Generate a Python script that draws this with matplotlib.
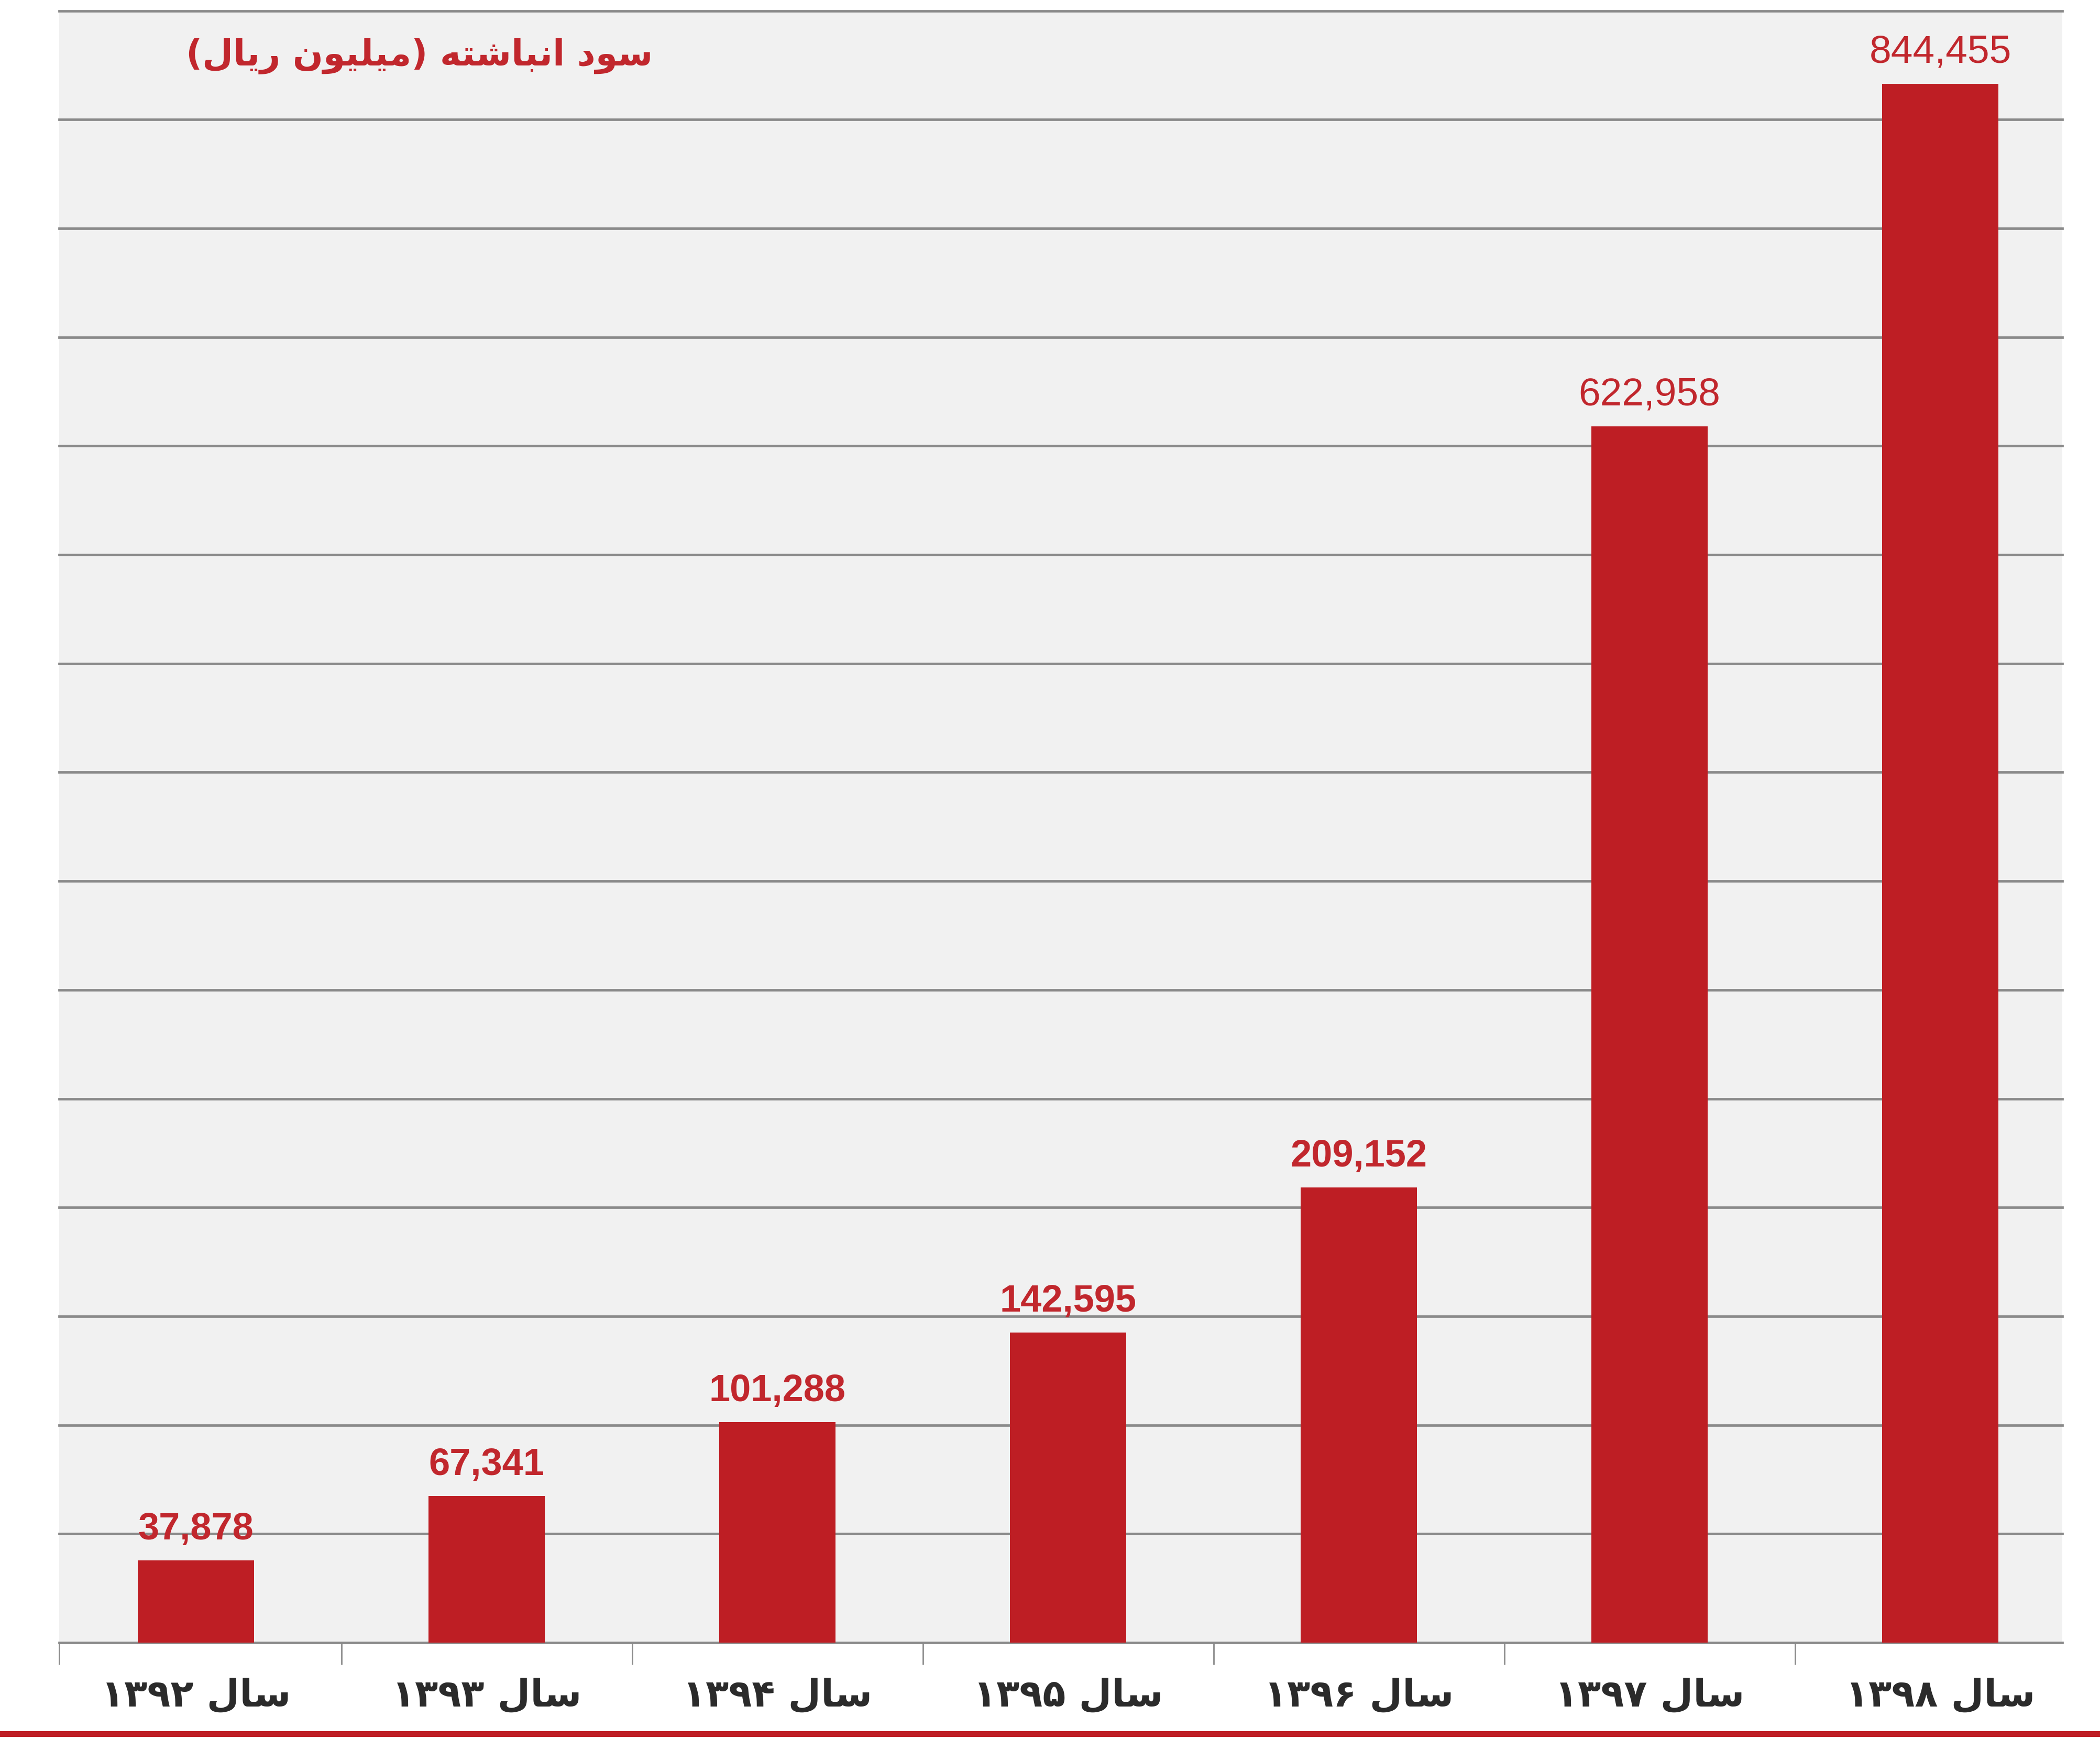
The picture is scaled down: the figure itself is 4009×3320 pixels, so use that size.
import numpy as np
import matplotlib
matplotlib.use("Agg")
import matplotlib.pyplot as plt
from matplotlib.lines import Line2D

# data (values in million rials)
years = ["سال ۱۳۹۲", "سال ۱۳۹۳", "سال ۱۳۹۴", "سال ۱۳۹۵", "سال ۱۳۹۶", "سال ۱۳۹۷", "سال ۱۳۹۸"]
values = [37878, 67341, 101288, 142595, 209152, 622958, 844455]
# drawn bar heights (last two bars are shortened in the original)
bar_heights = [37878, 67341, 101288, 142595, 209152, 559000, 716500]
title = "سود انباشته (میلیون ریال)"

RED = "#be1e24"
LABEL_RED = "#c1272d"

# --- minimal arabic/persian shaping (matplotlib does no text shaping) ---
FORMS = {
    "ا": ("\uFE8D", "\uFE8E", None, None),
    "ب": ("\uFE8F", "\uFE90", "\uFE91", "\uFE92"),
    "ت": ("\uFE95", "\uFE96", "\uFE97", "\uFE98"),
    "د": ("\uFEA9", "\uFEAA", None, None),
    "ر": ("\uFEAD", "\uFEAE", None, None),
    "س": ("\uFEB1", "\uFEB2", "\uFEB3", "\uFEB4"),
    "ش": ("\uFEB5", "\uFEB6", "\uFEB7", "\uFEB8"),
    "ل": ("\uFEDD", "\uFEDE", "\uFEDF", "\uFEE0"),
    "م": ("\uFEE1", "\uFEE2", "\uFEE3", "\uFEE4"),
    "ن": ("\uFEE5", "\uFEE6", "\uFEE7", "\uFEE8"),
    "ه": ("\uFEE9", "\uFEEA", "\uFEEB", "\uFEEC"),
    "و": ("\uFEED", "\uFEEE", None, None),
    "ی": ("\uFEEF", "\uFEF0", "\uFEF3", "\uFEF4"),
}
MIRROR = {"(": ")", ")": "("}


def rtl(s):
    out = []
    for i, ch in enumerate(s):
        if ch not in FORMS:
            out.append(MIRROR.get(ch, ch))
            continue
        prev = s[i - 1] if i > 0 else None
        nxt = s[i + 1] if i + 1 < len(s) else None
        join_prev = prev in FORMS and FORMS[prev][2] is not None
        join_next = nxt in FORMS and FORMS[ch][2] is not None
        iso, fin, ini, med = FORMS[ch]
        if join_prev and join_next:
            out.append(med)
        elif join_prev:
            out.append(fin)
        elif join_next:
            out.append(ini)
        else:
            out.append(iso)
    out = out[::-1]
    # digit runs stay left-to-right
    res, run = [], []
    for ch in out:
        if ch.isdigit():
            run.append(ch)
        else:
            res.extend(run[::-1])
            run = []
            res.append(ch)
    res.extend(run[::-1])
    return "".join(res)


fig = plt.figure(figsize=(20.045, 16.6), dpi=200)
fig.patch.set_facecolor("white")
ax = fig.add_axes([0.0281, 0.0554, 0.9540, 0.9384])
ax.set_facecolor("#f1f1f1")

x = np.arange(len(years))
ax.bar(x, bar_heights, width=0.40, color=RED, zorder=3)

for i, (h, v) in enumerate(zip(bar_heights, values)):
    big = v > 500000
    ax.annotate(f"{v:,}", (x[i], h), xytext=(0, 9), textcoords="offset points",
                ha="center", va="bottom", color=LABEL_RED,
                fontsize=27 if big else 26, fontweight="normal" if big else "bold",
                family="Liberation Sans", zorder=4)

x_left, x_right = -0.471, 6.42
ax.set_xlim(x_left, x_right)
ax.set_ylim(0, 750000)
ax.set_yticks(np.arange(0, 750001, 50000))
ax.yaxis.grid(True, color="#8a8a8a", linewidth=1.7)
for gl in ax.get_ygridlines():
    gl.set_clip_on(False)
ax.set_axisbelow(True)
ax.tick_params(axis="y", left=False, labelleft=False)
for sp in ax.spines.values():
    sp.set_visible(False)

# category labels + boundary ticks
ax.set_xticks(x)
ax.set_xticklabels([rtl(y) for y in years], fontsize=26, fontweight="bold",
                   color="#2b2b2b", family="DejaVu Sans")
ax.tick_params(axis="x", which="major", length=0, pad=24)
ax.set_xticks([x_left] + list(np.arange(1, len(years)) - 0.5), minor=True)
ax.tick_params(axis="x", which="minor", length=15, width=1.0, color="#8c8c8c")

fig.text(0.1996, 0.9677, rtl(title), ha="center", va="center", fontsize=24.5,
         fontweight="bold", color=LABEL_RED, family="DejaVu Sans")

# red rule at the bottom
fig.add_artist(Line2D([0.0, 1.0], [0.003, 0.003], color=RED, linewidth=4,
                      transform=fig.transFigure))

fig.savefig("out.png", dpi=200, facecolor="white")
